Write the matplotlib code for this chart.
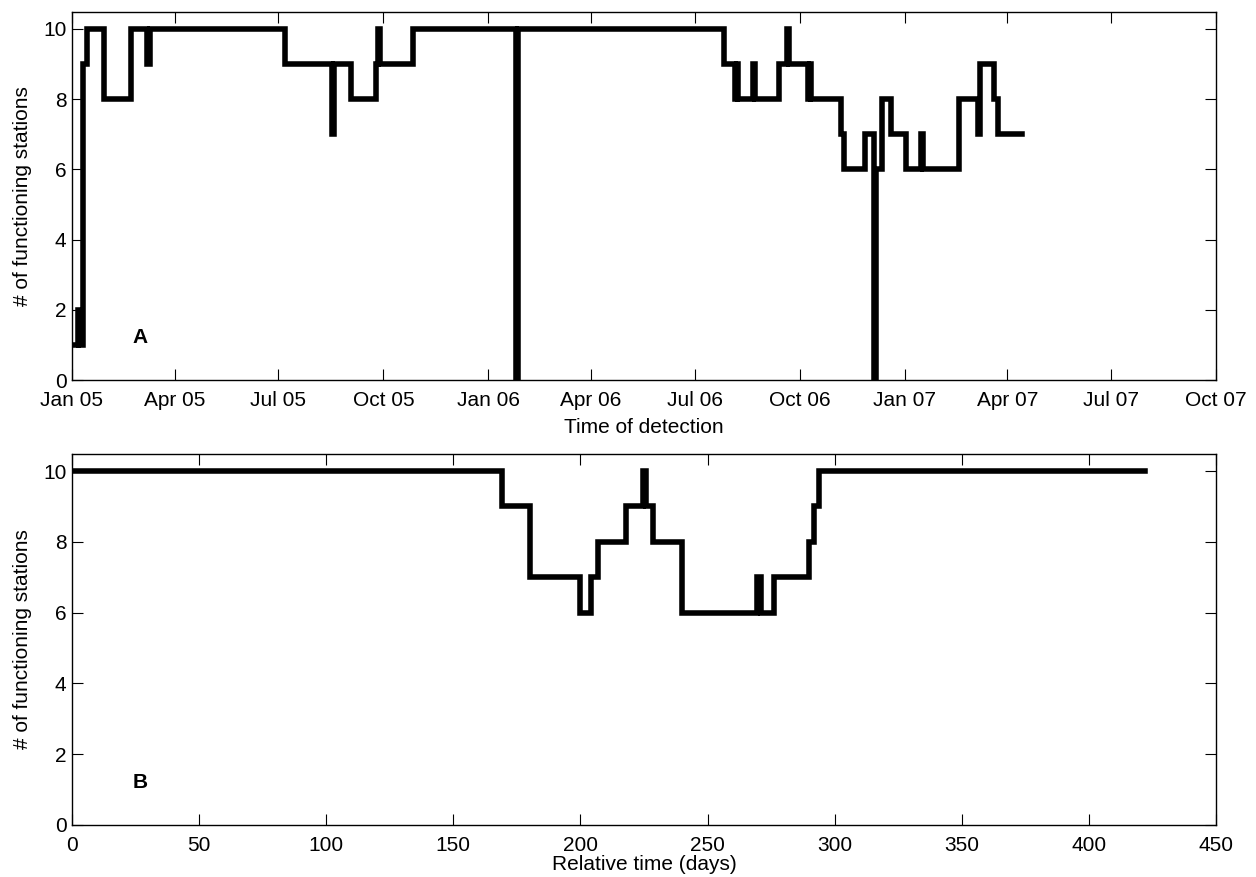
import numpy as np
import matplotlib
matplotlib.use("Agg")
import matplotlib.pyplot as plt
import matplotlib.dates as mdates

plt.rcParams['font.family'] = ['Liberation Sans', 'DejaVu Sans']

# Panel A: station count changes over calendar time
dates_a = ['2005-01-01', '2005-01-06', '2005-01-07', '2005-01-11', '2005-01-14',
           '2005-01-29', '2005-02-22', '2005-03-08', '2005-03-10', '2005-07-07',
           '2005-08-17', '2005-08-19', '2005-09-03', '2005-09-25', '2005-09-26',
           '2005-09-28', '2005-10-27', '2006-01-25', '2006-01-27', '2006-07-27',
           '2006-08-05', '2006-08-07', '2006-08-08', '2006-08-21', '2006-08-23',
           '2006-09-13', '2006-09-20', '2006-09-22', '2006-10-08', '2006-10-10',
           '2006-10-11', '2006-11-06', '2006-11-09', '2006-11-27', '2006-12-05',
           '2006-12-07', '2006-12-12', '2006-12-20', '2007-01-02', '2007-01-15',
           '2007-01-17', '2007-02-18', '2007-03-06', '2007-03-08', '2007-03-20',
           '2007-03-24', '2007-04-14']
stations_a = [1, 2, 1, 9, 10,
              8, 10, 9, 10, 9,
              7, 9, 8, 9, 10,
              9, 10, 0, 10, 9,
              8, 9, 8, 9, 8,
              9, 10, 9, 8, 9,
              8, 7, 6, 7, 0,
              6, 8, 7, 6, 7,
              6, 8, 7, 9, 8,
              7, 7]

# Panel B: station count vs relative time (days)
days_b = [0, 169, 180, 200, 204, 207, 218, 224.5, 226, 228.5, 240,
          269.5, 271, 276, 290, 292, 294, 422]
stations_b = [10, 9, 7, 6, 7, 8, 9, 10, 9, 8, 6,
              7, 6, 7, 8, 9, 10, 10]

tick_dates = ['2005-01-01', '2005-04-01', '2005-07-01', '2005-10-01',
              '2006-01-01', '2006-04-01', '2006-07-01', '2006-10-01',
              '2007-01-01', '2007-04-01', '2007-07-01', '2007-10-01']

fig = plt.figure(figsize=(12.56, 8.77), dpi=100)
ax1 = fig.add_axes([0.0573, 0.5667, 0.9108, 0.4196])
ax2 = fig.add_axes([0.0573, 0.0593, 0.9108, 0.4230])

lw = 4.0
fs = 15

xa = np.array(dates_a, dtype='datetime64[D]')
ax1.plot(xa, stations_a, color='black', lw=lw, drawstyle='steps-post',
         solid_joinstyle='miter')
ax1.set_xlim(np.datetime64('2005-01-01'), np.datetime64('2007-10-01'))
ax1.set_xticks(np.array(tick_dates, dtype='datetime64[D]'))
ax1.xaxis.set_major_formatter(mdates.DateFormatter('%b %y'))
ax1.set_xlabel('Time of detection', fontsize=fs, labelpad=6)
ax1.text(0.053, 0.115, 'A', transform=ax1.transAxes, fontsize=fs,
         fontweight='bold', ha='left', va='center')

ax2.plot(days_b, stations_b, color='black', lw=lw, drawstyle='steps-post',
         solid_joinstyle='miter')
ax2.set_xlim(0, 450)
ax2.set_xticks(np.arange(0, 451, 50))
ax2.set_xlabel('Relative time (days)', fontsize=fs, labelpad=0)
ax2.text(0.053, 0.115, 'B', transform=ax2.transAxes, fontsize=fs,
         fontweight='bold', ha='left', va='center')

for ax in (ax1, ax2):
    ax.set_ylim(0, 10.48)
    ax.set_yticks(np.arange(0, 11, 2))
    ax.set_ylabel('# of functioning stations', fontsize=fs, labelpad=8)
    ax.tick_params(direction='in', length=8, width=0.8, labelsize=fs,
                   top=True, right=True, pad=4)
    ax.tick_params(axis='x', pad=8)
    for s in ax.spines.values():
        s.set_linewidth(1.0)

fig.savefig('out.png', dpi=100)
